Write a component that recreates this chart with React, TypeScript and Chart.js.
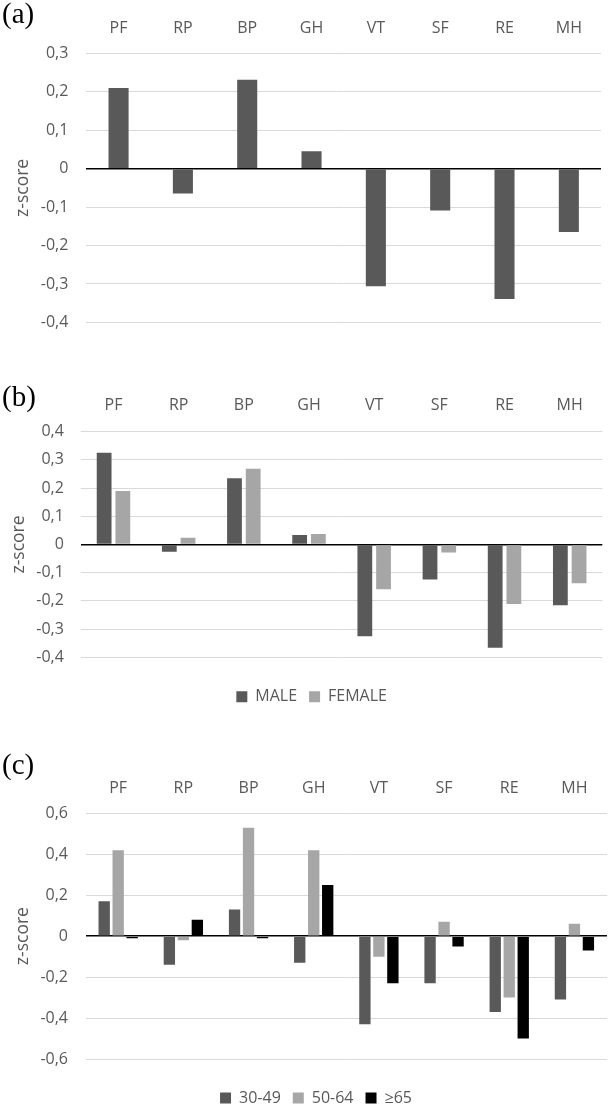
import React, { useEffect, useRef } from "react";
import { Chart, registerables } from "chart.js";

Chart.register(...registerables);

// ---------- data ----------
const categories = ["PF", "RP", "BP", "GH", "VT", "SF", "RE", "MH"];

const overallValues = [0.21, -0.065, 0.231, 0.045, -0.306, -0.109, -0.339, -0.165];

const maleValues = [0.325, -0.026, 0.235, 0.034, -0.325, -0.124, -0.366, -0.215];
const femaleValues = [0.19, 0.024, 0.269, 0.037, -0.159, -0.028, -0.211, -0.137];

const age3049Values = [0.17, -0.14, 0.13, -0.13, -0.43, -0.23, -0.37, -0.31];
const age5064Values = [0.42, -0.02, 0.53, 0.42, -0.1, 0.07, -0.3, 0.06];
const age65Values = [-0.01, 0.08, -0.01, 0.25, -0.23, -0.05, -0.5, -0.07];

const yTicksA = [-0.4, -0.3, -0.2, -0.1, 0, 0.1, 0.2, 0.3];
const yTicksB = [-0.4, -0.3, -0.2, -0.1, 0, 0.1, 0.2, 0.3, 0.4];
const yTicksC = [-0.6, -0.4, -0.2, 0, 0.2, 0.4, 0.6];

const legendB = ["MALE", "FEMALE"];
const legendC = ["30-49", "50-64", "≥65"];

// ---------- styles ----------
const DARK = "#595959";
const LIGHT = "#A6A6A6";
const BLACK = "#000000";
const GRID = "#D9D9D9";
const TEXT = "#595959";
const FONT = "'Open Sans', sans-serif";

function fmt(v: number): string {
  if (Math.abs(v) < 1e-9) return "0";
  return v.toFixed(1).replace(".", ",");
}

type DS = { label: string; data: number[]; color: string };

type Opts = {
  datasets: DS[];
  yTicks: number[];
  catPct: number;
  barPct: number;
  xHeight: number;
  xPad: number;
  yWidth: number;
  yPad: number;
  titlePad: number;
  layout: { left: number; right: number; top: number; bottom: number };
  legend: boolean;
  legendTitleH?: number;
};

function buildConfig(o: Opts): any {
  const yMin = Math.min(...o.yTicks);
  const yMax = Math.max(...o.yTicks);
  return {
    type: "bar",
    data: {
      labels: categories,
      datasets: o.datasets.map((d) => ({
        label: d.label,
        data: d.data,
        backgroundColor: d.color,
        borderWidth: 0,
        categoryPercentage: o.catPct,
        barPercentage: o.barPct,
      })),
    },
    options: {
      animation: false,
      responsive: true,
      maintainAspectRatio: false,
      layout: { padding: o.layout },
      plugins: {
        legend: o.legend
          ? {
              display: true,
              position: "bottom",
              labels: {
                color: TEXT,
                font: { family: FONT, size: 16 },
                boxWidth: 11,
                boxHeight: 11,
                padding: 12,
              },
              title: {
                display: true,
                text: "",
                padding: 0,
                font: { size: o.legendTitleH, lineHeight: 1 },
              },
            }
          : { display: false },
        tooltip: { enabled: false },
      },
      scales: {
        x: {
          position: "top",
          grid: { display: false, drawTicks: false },
          border: { display: false },
          ticks: {
            color: TEXT,
            font: { family: FONT, size: 16 },
            padding: o.xPad,
            autoSkip: false,
            maxRotation: 0,
          },
          afterFit: (s: any) => {
            s.height = o.xHeight;
          },
        },
        y: {
          min: yMin,
          max: yMax,
          grid: {
            drawTicks: false,
            color: (c: any) =>
              c.tick && Math.abs(c.tick.value) < 1e-9 ? "#000000" : GRID,
            lineWidth: (c: any) =>
              c.tick && Math.abs(c.tick.value) < 1e-9 ? 1.5 : 1,
          },
          border: { display: false },
          ticks: {
            color: TEXT,
            font: { family: FONT, size: 16 },
            padding: o.yPad,
            autoSkip: false,
            callback: (v: any) => fmt(Number(v)),
          },
          afterBuildTicks: (s: any) => {
            s.ticks = o.yTicks.map((v) => ({ value: v }));
          },
          title: {
            display: true,
            text: "z-score",
            color: TEXT,
            font: { family: FONT, size: 17.5 },
            padding: { top: o.titlePad, bottom: 0 },
          },
          afterFit: (s: any) => {
            s.width = o.yWidth;
          },
        },
      },
    },
  };
}

function ChartPanel({ top, height, opts }: { top: number; height: number; opts: Opts }) {
  const ref = useRef<HTMLCanvasElement>(null);
  useEffect(() => {
    const chart = new Chart(ref.current as HTMLCanvasElement, buildConfig(opts));
    return () => chart.destroy();
  }, []);
  return (
    <div style={{ position: "absolute", left: 0, top, width: 610, height }}>
      <canvas ref={ref} />
    </div>
  );
}

const panelLabelStyle: React.CSSProperties = {
  position: "absolute",
  left: 2,
  fontFamily: "'Liberation Serif', 'Times New Roman', serif",
  fontSize: 29,
  lineHeight: "29px",
  color: "#000",
};

export default function App() {
  const optsA: Opts = {
    datasets: [{ label: "z-score", data: overallValues, color: DARK }],
    yTicks: yTicksA,
    catPct: 0.39,
    barPct: 0.8,
    xHeight: 53.3,
    xPad: 15.4,
    yWidth: 86.4,
    yPad: 18,
    titlePad: 12.5,
    layout: { left: 0, right: 9, top: 0, bottom: 27.3 },
    legend: false,
  };
  const optsB: Opts = {
    datasets: [
      { label: legendB[0], data: maleValues, color: DARK },
      { label: legendB[1], data: femaleValues, color: LIGHT },
    ],
    yTicks: yTicksB,
    catPct: 0.574,
    barPct: 0.79,
    xHeight: 76.7,
    xPad: 16.4,
    yWidth: 59.9,
    yPad: 17,
    titlePad: -12.2,
    layout: { left: 21, right: 7.7, top: 0, bottom: 0.3 },
    legend: true,
    legendTitleH: 19.4,
  };
  const optsC: Opts = {
    datasets: [
      { label: legendC[0], data: age3049Values, color: DARK },
      { label: legendC[1], data: age5064Values, color: LIGHT },
      { label: legendC[2], data: age65Values, color: BLACK },
    ],
    yTicks: yTicksC,
    catPct: 0.644,
    barPct: 0.81,
    xHeight: 93.3,
    xPad: 15.4,
    yWidth: 60.6,
    yPad: 17.6,
    titlePad: -12.7,
    layout: { left: 25, right: 3, top: 0, bottom: 4 },
    legend: true,
    legendTitleH: 19,
  };

  return (
    <div
      style={{
        position: "absolute",
        left: 0,
        top: 0,
        width: 610,
        height: 1107,
        overflow: "hidden",
        background: "#ffffff",
      }}
    >
      <ChartPanel top={0} height={350} opts={optsA} />
      <ChartPanel top={355} height={360} opts={optsB} />
      <ChartPanel top={720} height={400} opts={optsC} />
      <div style={{ ...panelLabelStyle, top: -1 }}>(a)</div>
      <div style={{ ...panelLabelStyle, top: 382 }}>(b)</div>
      <div style={{ ...panelLabelStyle, top: 750 }}>(c)</div>
    </div>
  );
}
